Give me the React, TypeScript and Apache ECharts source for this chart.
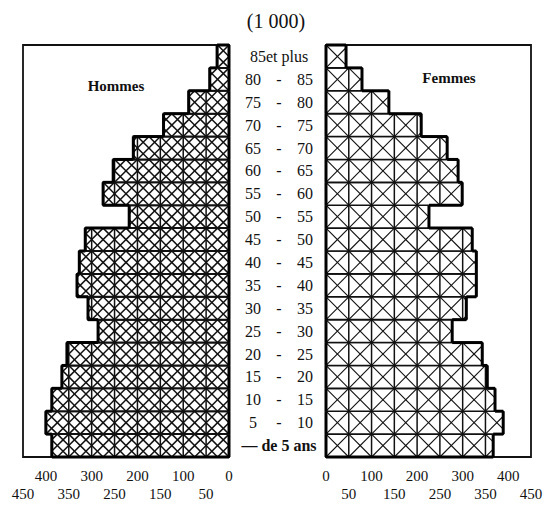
import React, { useEffect, useRef } from 'react';
import * as echarts from 'echarts';

const categories = [
  '— de 5 ans', '5 - 10', '10 - 15', '15 - 20', '20 - 25', '25 - 30', '30 - 35',
  '35 - 40', '40 - 45', '45 - 50', '50 - 55', '55 - 60', '60 - 65', '65 - 70',
  '70 - 75', '75 - 80', '80 - 85', '85et plus',
];
const hommes = [387, 400, 387, 365, 354, 286, 308, 332, 327, 314, 218, 275, 253, 209, 143, 88, 42, 26];
const femmes = [367, 389, 371, 354, 343, 277, 308, 330, 330, 321, 226, 299, 290, 266, 209, 138, 79, 44];
const axisMax = 450;
const cellStep = 50;

const FONT = '"Liberation Serif", "DejaVu Serif", serif';

function clipSeg(x1: number, y1: number, x2: number, y2: number, lo: number, hi: number) {
  if (x1 > x2) { [x1, x2] = [x2, x1]; [y1, y2] = [y2, y1]; }
  if (x2 <= lo || x1 >= hi) return null;
  const yAt = (x: number) => y1 + ((y2 - y1) * (x - x1)) / (x2 - x1);
  const ax = Math.max(x1, lo), bx = Math.min(x2, hi);
  return { x1: ax, y1: yAt(ax), x2: bx, y2: yAt(bx) };
}

function makeRender(values: number[], dense: boolean) {
  return (params: any, api: any) => {
    const val = api.value(0) as number;
    const idx = api.value(1) as number;
    const p0 = api.coord([0, idx]);
    const p1 = api.coord([val, idx]);
    const bh = api.size([0, 1])[1];
    const yT = p0[1] - bh / 2;
    const yB = p0[1] + bh / 2;
    const children: any[] = [];
    const xmin = Math.min(p0[0], p1[0]);
    const w = Math.abs(p1[0] - p0[0]);
    children.push({ type: 'rect', shape: { x: xmin, y: yT, width: w, height: bh }, style: { fill: '#fff' } });
    const hatchW = dense ? 1.5 : 1.1;
    for (let a = 0; a < val; a += cellStep) {
      const b = a + cellStep;
      const xa = api.coord([a, idx])[0];
      const xb = api.coord([b, idx])[0];
      const xe = api.coord([Math.min(b, val), idx])[0];
      const lo = Math.min(xa, xb), hi = Math.max(xa, xb);
      const clo = Math.min(xa, xe), chi = Math.max(xa, xe);
      const cw = hi - lo;
      const segs: number[][] = [
        [lo, yT, hi, yB],
        [hi, yT, lo, yB],
      ];
      if (dense) {
        const mx = lo + cw / 2, my = (yT + yB) / 2;
        segs.push([mx, yT, hi, my], [hi, my, mx, yB], [mx, yB, lo, my], [lo, my, mx, yT]);
      }
      segs.forEach((s) => {
        const c = clipSeg(s[0], s[1], s[2], s[3], clo, chi);
        if (c) children.push({ type: 'line', shape: c, style: { stroke: '#111', lineWidth: hatchW } });
      });
      if (a > 0) {
        children.push({ type: 'line', shape: { x1: xa, y1: yT, x2: xa, y2: yB }, style: { stroke: '#111', lineWidth: 1.5 } });
      }
    }
    children.push({ type: 'rect', shape: { x: xmin, y: yT, width: w, height: bh }, style: { fill: 'none', stroke: '#111', lineWidth: dense ? 2 : 1.6 } });
    const thick = { stroke: '#000', lineWidth: 3 };
    children.push({ type: 'line', shape: { x1: p1[0], y1: yT, x2: p1[0], y2: yB }, style: thick });
    children.push({ type: 'line', shape: { x1: p0[0], y1: yT, x2: p0[0], y2: yB }, style: thick });
    const above = idx + 1 < values.length ? values[idx + 1] : 0;
    const below = idx > 0 ? values[idx - 1] : 0;
    if (val > above) {
      const xs = api.coord([above, idx])[0];
      children.push({ type: 'line', shape: { x1: xs, y1: yT, x2: p1[0], y2: yT }, style: thick });
    }
    if (val > below) {
      const xs = api.coord([below, idx])[0];
      children.push({ type: 'line', shape: { x1: xs, y1: yB, x2: p1[0], y2: yB }, style: thick });
    }
    return { type: 'group', children };
  };
}

function catLabel(v: string) {
  const parts = v.split(' - ');
  if (parts.length === 2) return `{l|${parts[0]}}{d|-}{r|${parts[1]}}`;
  if (v.startsWith('—')) return `{b|${v}}`;
  return `{p|${v}}`;
}

export default function App() {
  const ref = useRef<HTMLDivElement>(null);
  useEffect(() => {
    if (!ref.current) return;
    const chart = echarts.init(ref.current, undefined, { renderer: 'svg' });
    const xLabel = {
      fontSize: 15,
      lineHeight: 18,
      color: '#111',
      fontFamily: FONT,
      margin: 10,
      formatter: (v: number) => (v % 100 === 0 ? String(v) : '\n' + v),
    };
    const txt = { fontSize: 16, fontFamily: FONT, color: '#111' };
    chart.setOption({
      animation: false,
      backgroundColor: '#fff',
      title: {
        text: '(1 000)',
        left: 'center',
        top: 6,
        textStyle: { fontSize: 20, fontWeight: 'normal', fontFamily: FONT, color: '#111' },
      },
      grid: [
        { left: 23, top: 45, width: 206, height: 412, show: true, borderColor: '#111', borderWidth: 1.8, backgroundColor: '#fff' },
        { left: 326, top: 45, width: 205, height: 412, show: true, borderColor: '#111', borderWidth: 1.8, backgroundColor: '#fff' },
      ],
      xAxis: [
        {
          type: 'value', gridIndex: 0, min: 0, max: axisMax, interval: cellStep, inverse: true,
          axisLine: { show: false }, axisTick: { show: false }, splitLine: { show: false }, axisLabel: xLabel,
        },
        {
          type: 'value', gridIndex: 1, min: 0, max: axisMax, interval: cellStep,
          axisLine: { show: false }, axisTick: { show: false }, splitLine: { show: false }, axisLabel: xLabel,
        },
      ],
      yAxis: [
        { type: 'category', gridIndex: 0, data: categories, show: false },
        {
          type: 'category', gridIndex: 1, data: categories,
          axisLine: { show: false }, axisTick: { show: false },
          axisLabel: {
            align: 'center',
            margin: 47,
            formatter: catLabel,
            rich: {
              l: { ...txt, width: 28, align: 'right' },
              d: { ...txt, width: 24, align: 'center' },
              r: { ...txt, width: 28, align: 'left' },
              b: { ...txt, fontWeight: 'bold' },
              p: { ...txt },
            },
          },
        },
      ],
      graphic: [
        { type: 'text', x: 116, y: 86, style: { text: 'Hommes', fontSize: 15, fontWeight: 'bold', fontFamily: FONT, fill: '#111', textAlign: 'center', textVerticalAlign: 'middle' } },
        { type: 'text', x: 449, y: 78, style: { text: 'Femmes', fontSize: 15, fontWeight: 'bold', fontFamily: FONT, fill: '#111', textAlign: 'center', textVerticalAlign: 'middle' } },
      ],
      series: [
        {
          name: 'Hommes', type: 'custom', coordinateSystem: 'cartesian2d', xAxisIndex: 0, yAxisIndex: 0,
          data: hommes.map((v, i) => [v, i]), encode: { x: 0, y: 1 }, renderItem: makeRender(hommes, true), clip: false,
        },
        {
          name: 'Femmes', type: 'custom', coordinateSystem: 'cartesian2d', xAxisIndex: 1, yAxisIndex: 1,
          data: femmes.map((v, i) => [v, i]), encode: { x: 0, y: 1 }, renderItem: makeRender(femmes, false), clip: false,
        },
      ],
    });
    return () => chart.dispose();
  }, []);
  return <div ref={ref} style={{ position: 'fixed', left: 0, top: 0, width: 552, height: 505 }} />;
}
